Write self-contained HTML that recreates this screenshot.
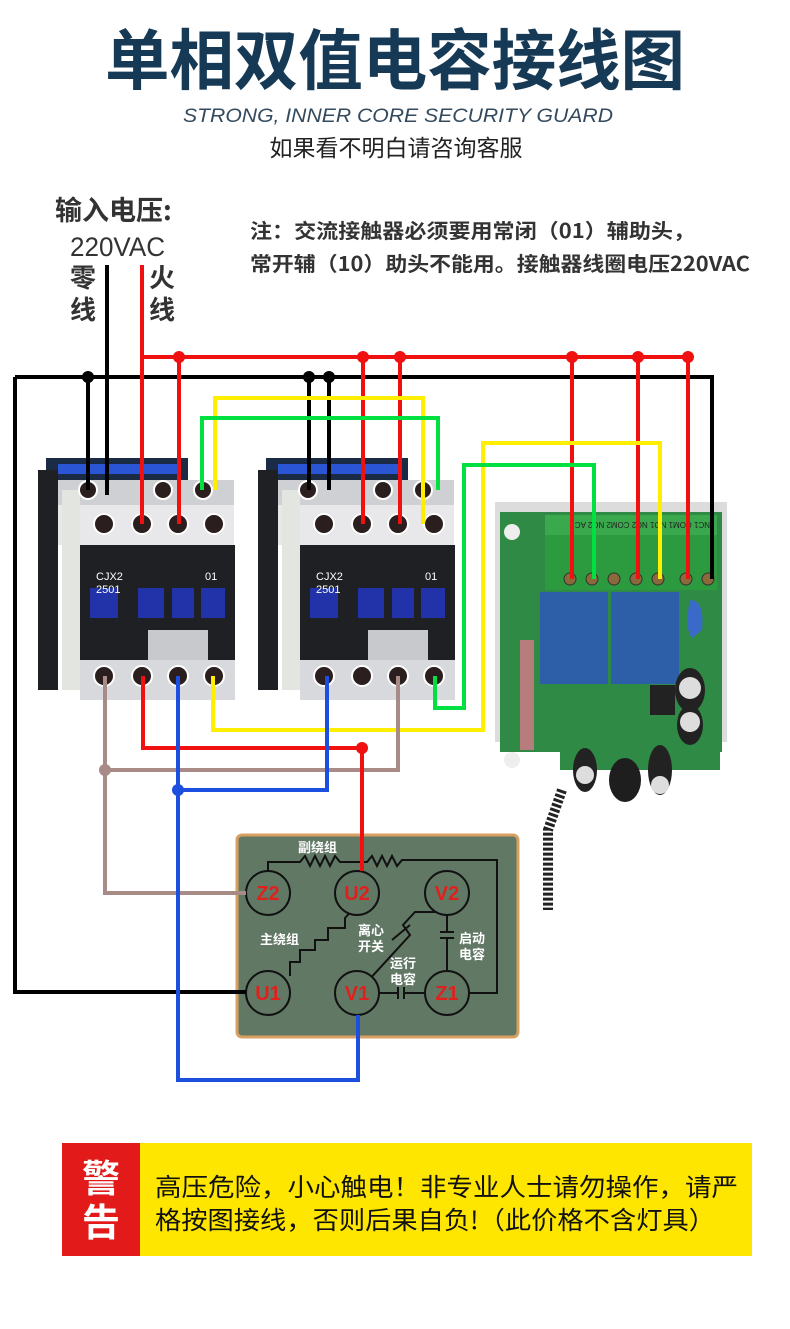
<!DOCTYPE html>
<html><head><meta charset="utf-8"><style>
html,body{margin:0;padding:0;background:#fff}
svg{display:block}
.t{font-family:"Liberation Sans","Noto Sans CJK SC",sans-serif}
</style></head><body>
<svg width="790" height="1329" viewBox="0 0 790 1329" xmlns="http://www.w3.org/2000/svg" class="t">
<rect width="790" height="1329" fill="#fff"/>
<text x="395" y="84" text-anchor="middle" font-size="66" font-weight="bold" fill="#163a56" font-family="Noto Sans CJK SC,sans-serif" textLength="580" lengthAdjust="spacingAndGlyphs">单相双值电容接线图</text>
<text x="398" y="122" text-anchor="middle" font-size="19" font-style="italic" fill="#334a5e" font-family="Liberation Sans,sans-serif" textLength="430" lengthAdjust="spacingAndGlyphs">STRONG, INNER CORE SECURITY GUARD</text>
<text x="396" y="156" text-anchor="middle" font-size="23" fill="#222" font-family="Noto Sans CJK SC,sans-serif">如果看不明白请咨询客服</text>
<g fill="#333" font-family="Noto Sans CJK SC,sans-serif" font-weight="bold">
<text x="55" y="220" font-size="27">输入电压:</text>
<text x="70" y="256" font-size="27" font-weight="normal" font-family="Liberation Sans,sans-serif" textLength="95" lengthAdjust="spacingAndGlyphs">220VAC</text>
<text x="70" y="287" font-size="26">零</text><text x="70" y="319" font-size="26">线</text>
<text x="149" y="287" font-size="26">火</text><text x="149" y="319" font-size="26">线</text>
<text x="250" y="238" font-size="20" textLength="445" lengthAdjust="spacingAndGlyphs">注：交流接触器必须要用常闭（01）辅助头，</text>
<text x="250" y="271" font-size="20" textLength="500" lengthAdjust="spacingAndGlyphs">常开辅（10）助头不能用。接触器线圈电压220VAC</text>
</g>

<defs>
<g id="ct">
<rect x="0" y="0" width="197" height="255" fill="#fff"/>
<path d="M8 8 H150 V40 H8Z" fill="#1c2b45"/>
<rect x="20" y="14" width="120" height="10" fill="#2a56d6"/>
<rect x="8" y="30" width="188" height="30" fill="#cfd0d4"/>
<rect x="8" y="55" width="188" height="40" fill="#e8e8ea"/>
<rect x="0" y="20" width="20" height="220" fill="#1e2024"/>
<rect x="24" y="40" width="18" height="200" fill="#e3e6e0"/>
<rect x="42" y="95" width="155" height="120" fill="#1e2024"/>
<rect x="42" y="210" width="155" height="40" fill="#d8d9dc"/>
<rect x="110" y="180" width="60" height="30" fill="#c8c9cc"/>
<rect x="52" y="138" width="28" height="30" fill="#2233aa"/>
<rect x="100" y="138" width="26" height="30" fill="#2233aa"/>
<rect x="134" y="138" width="22" height="30" fill="#2233aa"/>
<rect x="163" y="138" width="24" height="30" fill="#2233aa"/>
<text x="58" y="130" font-size="11" fill="#fff" font-family="Liberation Sans,sans-serif">CJX2</text>
<text x="58" y="143" font-size="11" fill="#fff" font-family="Liberation Sans,sans-serif">2501</text>
<text x="167" y="130" font-size="11" fill="#fff" font-family="Liberation Sans,sans-serif">01</text>
<g fill="#2a1e1e" stroke="#fff" stroke-width="2">
<circle cx="66" cy="74" r="10"/><circle cx="104" cy="74" r="10"/><circle cx="140" cy="74" r="10"/><circle cx="176" cy="74" r="10"/>
<circle cx="66" cy="226" r="10"/><circle cx="104" cy="226" r="10"/><circle cx="140" cy="226" r="10"/><circle cx="176" cy="226" r="10"/>
<circle cx="50" cy="40" r="9"/><circle cx="125" cy="40" r="9"/><circle cx="165" cy="40" r="9"/>
</g>
</g>
</defs>
<use href="#ct" x="38" y="450"/>
<use href="#ct" x="258" y="450"/>

<g>
<rect x="495" y="502" width="232" height="240" fill="#dcdcdc"/>
<rect x="500" y="512" width="222" height="240" fill="#2f8a45"/>
<rect x="545" y="515" width="172" height="75" fill="#2c9a3e"/>
<rect x="545" y="515" width="172" height="20" fill="#3aa84c"/>
<text x="550" y="528" font-size="8" fill="#222" transform="rotate(180 630 525)">NC1 COM1 NO1 NC2 COM2 NO2 AC</text>
<g fill="#8a6a3a" stroke="#333"><circle cx="570" cy="579" r="6"/><circle cx="592" cy="579" r="6"/><circle cx="614" cy="579" r="6"/><circle cx="636" cy="579" r="6"/><circle cx="658" cy="579" r="6"/><circle cx="686" cy="579" r="6"/><circle cx="708" cy="579" r="6"/></g>
<rect x="540" y="592" width="68" height="92" fill="#2d5fa8"/>
<rect x="611" y="592" width="68" height="92" fill="#2d5fa8"/>
<path d="M690 600 q15 0 12 30 l-10 8 q-8-10-2-38z" fill="#3a6ac8"/>
<circle cx="512" cy="532" r="8" fill="#eee"/><circle cx="512" cy="760" r="8" fill="#eee"/>
<rect x="520" y="640" width="14" height="110" fill="#b77c7c"/>
<rect x="560" y="730" width="160" height="40" fill="#2f8a45"/>
<ellipse cx="690" cy="690" rx="15" ry="22" fill="#222"/><circle cx="690" cy="688" r="11" fill="#ddd"/>
<ellipse cx="690" cy="725" rx="13" ry="20" fill="#222"/><circle cx="690" cy="722" r="10" fill="#ddd"/>
<ellipse cx="660" cy="770" rx="12" ry="25" fill="#222"/><circle cx="660" cy="785" r="9" fill="#ddd"/>
<ellipse cx="625" cy="780" rx="16" ry="22" fill="#1e1e1e"/>
<ellipse cx="585" cy="770" rx="12" ry="22" fill="#222"/><circle cx="585" cy="775" r="9" fill="#ddd"/>
<rect x="650" y="685" width="25" height="30" fill="#222"/>
<path d="M562 790 L548 830 L548 910" stroke="#222" stroke-width="10" stroke-dasharray="3 2" fill="none"/>
</g>

<rect x="237" y="835" width="281" height="202" rx="5" fill="#617865" stroke="#d8a060" stroke-width="3"/>
<g stroke="#111" stroke-width="2" fill="none">
<path d="M268 893 V862 H300 l5 -6 5 10 5 -10 5 10 5 -10 5 10 5 -10 5 6 H367 l5 -6 5 10 5 -10 5 10 5 -10 5 10 5 -6 H497 V993 H447"/>
<path d="M290 976 V962 H300 V950 H315 V940 H328 V928 H345 V918 L357 905"/>
<path d="M357 993 L410 935 L403 925 L415 912 H445"/>
<path d="M392 940 L410 925"/>
<path d="M447 905 V932 M440 932 H454 M440 938 H454 M447 938 V975"/>
<path d="M380 993 H398 M398 987 V999 M404 987 V999 M404 993 H425"/>
</g>
<g fill="#617865" stroke="#111" stroke-width="2">
<circle cx="268" cy="893" r="22"/><circle cx="357" cy="893" r="22"/><circle cx="447" cy="893" r="22"/>
<circle cx="268" cy="993" r="22"/><circle cx="357" cy="993" r="22"/><circle cx="447" cy="993" r="22"/>
</g>
<g fill="#e0201c" font-size="20" font-weight="bold" text-anchor="middle" font-family="Liberation Sans,sans-serif">
<text x="268" y="900">Z2</text><text x="357" y="900">U2</text><text x="447" y="900">V2</text>
<text x="268" y="1000">U1</text><text x="357" y="1000">V1</text><text x="447" y="1000">Z1</text>
</g>
<g fill="#fff" font-size="13" font-weight="bold" font-family="Noto Sans CJK SC,sans-serif">
<text x="298" y="852">副绕组</text><text x="260" y="944">主绕组</text>
<text x="358" y="935">离心</text><text x="358" y="951">开关</text>
<text x="390" y="968">运行</text><text x="390" y="984">电容</text>
<text x="459" y="943">启动</text><text x="459" y="959">电容</text>
</g>

<g fill="none" stroke-width="4">
<path d="M107 265 V495" stroke="#000"/>
<path d="M15 377 H712 V579 M88 377 V490 M309 377 V490 M329 377 V490 M15 377 V992 H246" stroke="#000"/>
<path d="M142 265 V524 M142 357 H690 M179 357 V524 M363 357 V524 M400 357 V524 M572 357 V579 M638 357 V579 M688 357 V579" stroke="#f01010"/>
<path d="M215 490 V398 H423 V524" stroke="#ffee00"/>
<path d="M202 490 V418 H438 V490" stroke="#00e040"/>
<path d="M213 676 V730 H483 V443 H660 V579" stroke="#ffee00"/>
<path d="M435 676 V708 H464 V465 H594 V579" stroke="#00e040"/>
<path d="M105 676 V893 H246 M105 770 H398 V676" stroke="#a88a86"/>
<path d="M143 676 V748 H362 V871" stroke="#f01010"/>
<path d="M178 676 V1080 H358 V1015 M178 790 H327 V676" stroke="#1c4ee0"/>
</g>
<g fill="#000"><circle cx="88" cy="377" r="6"/><circle cx="309" cy="377" r="6"/><circle cx="329" cy="377" r="6"/></g>
<g fill="#f01010"><circle cx="179" cy="357" r="6"/><circle cx="363" cy="357" r="6"/><circle cx="400" cy="357" r="6"/><circle cx="572" cy="357" r="6"/><circle cx="638" cy="357" r="6"/><circle cx="688" cy="357" r="6"/><circle cx="362" cy="748" r="6"/></g>
<circle cx="105" cy="770" r="6" fill="#a88a86"/><circle cx="178" cy="790" r="6" fill="#1c4ee0"/>

<rect x="62" y="1143" width="690" height="113" fill="#ffe600"/>
<rect x="62" y="1143" width="78" height="113" fill="#e21a1a"/>
<text x="101" y="1192" text-anchor="middle" font-size="38" font-weight="bold" fill="#fff" font-family="Noto Sans CJK SC,sans-serif">警</text>
<text x="101" y="1236" text-anchor="middle" font-size="38" font-weight="bold" fill="#fff" font-family="Noto Sans CJK SC,sans-serif">告</text>
<text x="155" y="1196" font-size="25" fill="#111" font-family="Noto Sans CJK SC,sans-serif" textLength="583" lengthAdjust="spacingAndGlyphs">高压危险，小心触电！非专业人士请勿操作，请严</text>
<text x="155" y="1229" font-size="25" fill="#111" font-family="Noto Sans CJK SC,sans-serif" textLength="560" lengthAdjust="spacingAndGlyphs">格按图接线，否则后果自负!（此价格不含灯具）</text>
</svg>
</body></html>
